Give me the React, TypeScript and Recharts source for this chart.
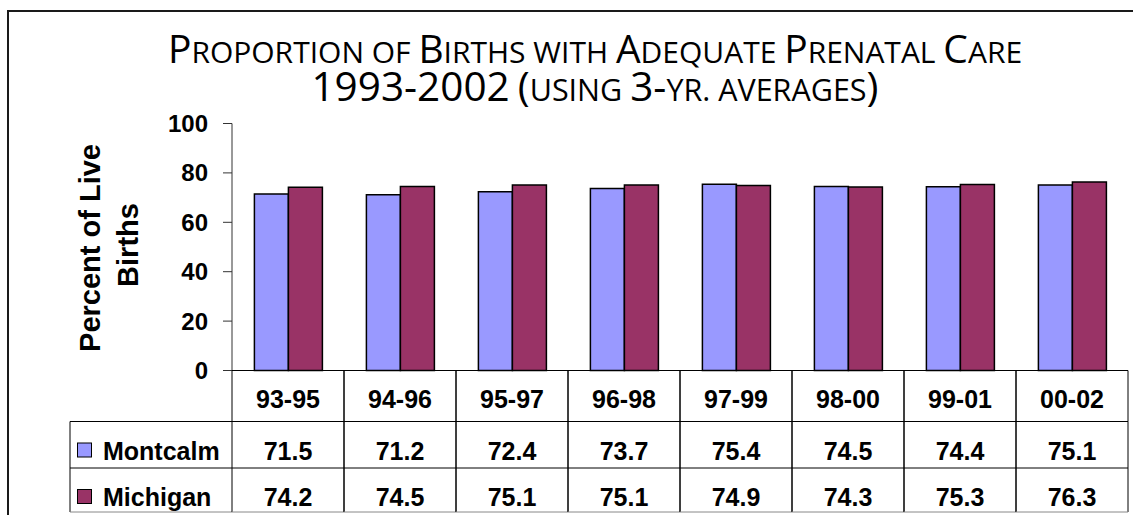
import { Bar, BarChart, XAxis, YAxis } from "recharts";

const categories = ["93-95", "94-96", "95-97", "96-98", "97-99", "98-00", "99-01", "00-02"];
const montcalm = [71.5, 71.2, 72.4, 73.7, 75.4, 74.5, 74.4, 75.1];
const michigan = [74.2, 74.5, 75.1, 75.1, 74.9, 74.3, 75.3, 76.3];
const yTicks = [0, 20, 40, 60, 80, 100];
const titleLines = ["Proportion of Births with Adequate Prenatal Care", "1993-2002 (using 3-yr. averages)"];

const W = 1133;
const H = 515;
const PLOT_LEFT = 232;
const PLOT_RIGHT = 1128;
const BAND = (PLOT_RIGHT - PLOT_LEFT) / categories.length;
const HEADER_LEFT = 70;
const CAT_H = 51;
const ROW1_H = 46.5;
const ROW2_H = 44;

const ARIAL = "'Liberation Sans', Arial, sans-serif";
const MONT_COLOR = "#9999FF";
const MICH_COLOR = "#993366";

const data = categories.map((cat, i) => ({
  cat,
  montcalm: montcalm[i],
  michigan: michigan[i],
}));

// split a string into runs: lower-case letters become small capitals
const smallCapsRuns = (s: string, big: number, small: number) => {
  const runs: { text: string; size: number }[] = [];
  for (const ch of s) {
    const isSmall = /[a-z .]/.test(ch);
    const size = isSmall ? small : big;
    const last = runs[runs.length - 1];
    if (last && last.size === size) last.text += ch.toUpperCase();
    else runs.push({ text: ch.toUpperCase(), size });
  }
  return runs;
};

const CategoryTick = ({ x, y, payload }: any) => (
  <g>
    <line x1={x - BAND / 2} x2={x - BAND / 2} y1={y} y2={y + CAT_H} stroke="#000" />
    <line x1={x + BAND / 2} x2={x + BAND / 2} y1={y} y2={y + CAT_H} stroke="#000" />
    <text x={x} y={y + 37.5} textAnchor="middle" fontFamily={ARIAL} fontWeight="bold" fontSize={25} fill="#000">
      {payload.value}
    </text>
  </g>
);

// one table row under the axis: value cells + (for the first cell) the legend header
const makeRowTick = (name: string, values: number[], color: string, h: number, last: boolean) => {
  return ({ x, y, payload }: any) => {
    const left = x - BAND / 2;
    const right = x + BAND / 2;
    const bottomStroke = last ? "#888" : "#000";
    return (
      <g>
        {payload.index === 0 && (
          <g>
            <line x1={HEADER_LEFT} x2={left} y1={y} y2={y} stroke="#000" />
            <line x1={HEADER_LEFT} x2={HEADER_LEFT} y1={y} y2={y + h} stroke="#000" />
            {last && <line x1={HEADER_LEFT} x2={left} y1={y + h} y2={y + h} stroke={bottomStroke} />}
            <rect x={77.5} y={y + 21.5} width={14} height={14} fill={color} stroke="#000" />
            <text x={103} y={y + 38} fontFamily={ARIAL} fontWeight="bold" fontSize={25} fill="#000">
              {name}
            </text>
          </g>
        )}
        <line x1={left} x2={right} y1={y} y2={y} stroke="#000" />
        <line x1={left} x2={left} y1={y} y2={y + h} stroke="#000" />
        <line x1={right} x2={right} y1={y} y2={y + h} stroke="#000" />
        {last && <line x1={left} x2={right} y1={y + h} y2={y + h} stroke={bottomStroke} />}
        <text x={x} y={y + 38} textAnchor="middle" fontFamily={ARIAL} fontWeight="bold" fontSize={25} fill="#000">
          {values[payload.index].toFixed(1)}
        </text>
      </g>
    );
  };
};

const YLabel = () => (
  <g fontFamily={ARIAL} fontWeight="bold" fontSize={29} fill="#000">
    <text x={100} y={248} textAnchor="middle" transform="rotate(-90, 100, 248)">
      Percent of Live
    </text>
    <text x={138} y={245} textAnchor="middle" transform="rotate(-90, 138, 245)">
      Births
    </text>
  </g>
);

export default function App() {
  return (
    <div style={{ position: "fixed", left: 0, top: 0, width: W, height: H, overflow: "hidden", background: "#fff" }}>
      <div
        style={{
          position: "absolute",
          left: 7,
          top: 10,
          width: W + 20,
          height: H + 20,
          borderTop: "2px solid #1a1a1a",
          borderLeft: "2px solid #1a1a1a",
        }}
      />
      <div style={{ position: "absolute", left: 0, top: 0 }}>
        <BarChart
          width={W}
          height={H}
          data={data}
          margin={{ top: 123.5, right: W - PLOT_RIGHT, bottom: 3, left: 0 }}
          barCategoryGap="20%"
          barGap={0}
        >
          <YAxis
            width={PLOT_LEFT}
            domain={[0, 100]}
            ticks={yTicks}
            tickSize={9}
            tickMargin={15}
            stroke="#333"
            tick={{ fontSize: 24, fontWeight: "bold", fill: "#000", fontFamily: ARIAL }}
            label={{ content: YLabel }}
          />
          <XAxis
            xAxisId="cat"
            dataKey="cat"
            height={CAT_H}
            tickLine={false}
            tickSize={0}
            tickMargin={0}
            stroke="#000"
            tick={CategoryTick}
          />
          <XAxis
            xAxisId="row1"
            dataKey="cat"
            height={ROW1_H}
            axisLine={false}
            tickLine={false}
            tickSize={0}
            tickMargin={0}
            tick={makeRowTick("Montcalm", montcalm, MONT_COLOR, ROW1_H, false)}
          />
          <XAxis
            xAxisId="row2"
            dataKey="cat"
            height={ROW2_H}
            axisLine={false}
            tickLine={false}
            tickSize={0}
            tickMargin={0}
            tick={makeRowTick("Michigan", michigan, MICH_COLOR, ROW2_H, true)}
          />
          <Bar xAxisId="cat" dataKey="montcalm" fill={MONT_COLOR} stroke="#000" strokeWidth={1.5} isAnimationActive={false} />
          <Bar xAxisId="cat" dataKey="michigan" fill={MICH_COLOR} stroke="#000" strokeWidth={1.5} isAnimationActive={false} />
        </BarChart>
      </div>
      <svg width={W} height={120} style={{ position: "absolute", left: 0, top: 0, pointerEvents: "none" }}>
        <g fontFamily="'Open Sans', sans-serif" fill="#000">
          <text x={595} y={63} textAnchor="middle">
            {smallCapsRuns(titleLines[0], 39, 30).map((r, i) => (
              <tspan key={i} fontSize={r.size}>
                {r.text}
              </tspan>
            ))}
          </text>
          <text x={595} y={101} textAnchor="middle">
            {smallCapsRuns(titleLines[1], 40.5, 30.5).map((r, i) => (
              <tspan key={i} fontSize={r.size}>
                {r.text}
              </tspan>
            ))}
          </text>
        </g>
      </svg>
    </div>
  );
}
